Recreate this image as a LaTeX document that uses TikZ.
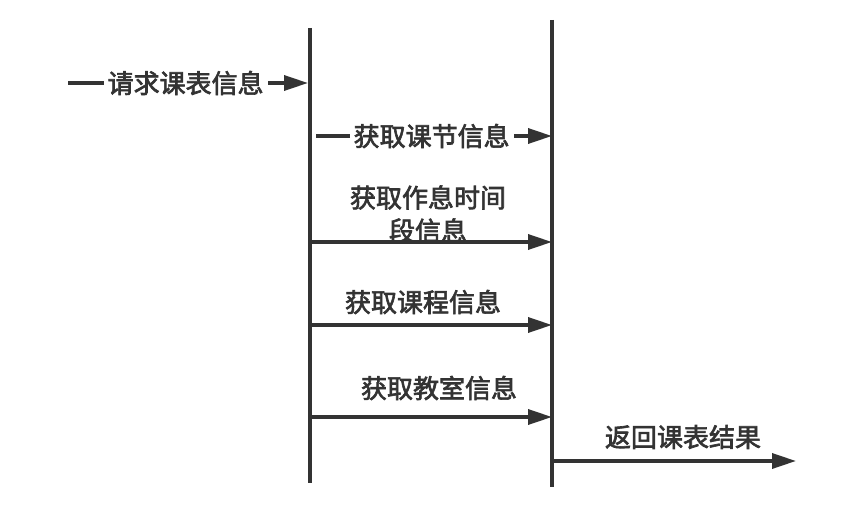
\documentclass[tikz,border=0pt]{standalone}
\usepackage{fontspec}
\newfontfamily\cjk{Noto Sans CJK SC}[FakeBold=2.5]
\usetikzlibrary{arrows.meta}
\definecolor{seqgray}{HTML}{333333}
\tikzset{
  seq frame/.style={
    x=1pt,
    y=-1pt,
    line cap=butt,
    line join=miter
  },
  seq life/.style={
    draw=seqgray,
    line width=3.4pt
  },
  seq msg/.style={
    draw=seqgray,
    line width=3.4pt,
    -{Triangle[length=24pt,width=15pt]}
  },
  seq label/.style={
    font=\cjk\fontsize{26}{33}\selectfont,
    text=seqgray,
    inner sep=1pt,
    align=center
  },
  seq inline/.style={
    seq label,
    fill=white,
    inner xsep=4pt
  }
}

\begin{document}
\begin{tikzpicture}[seq frame]

  \useasboundingbox (0,0) rectangle (868,524);

  % lifelines
  \coordinate (ui top) at (310,28);
  \coordinate (ui bot) at (310,483);
  \coordinate (svc top) at (552,20);
  \coordinate (svc bot) at (552,487);
  \draw[seq life] (ui top) -- (ui bot);
  \draw[seq life] (svc top) -- (svc bot);

  % request
  \coordinate (req start) at (68,83);
  \coordinate (req end) at (308,83);
  \draw[seq msg] (req start) -- (req end)
    node[seq inline,pos=0.49] (req) {请求课表信息};

  \coordinate (jie start) at (316,136);
  \coordinate (jie end) at (552,136);
  \draw[seq msg] (jie start) -- (jie end)
    node[seq inline,pos=0.49] (jie) {获取课节信息};

  \coordinate (zx start) at (310,242);
  \coordinate (zx end) at (552,242);
  \draw[seq msg] (zx start) -- (zx end);
  \node[seq label] (zx) at (428,214) {获取作息时间\\段信息};

  \coordinate (kc start) at (310,325);
  \coordinate (kc end) at (552,325);
  \draw[seq msg] (kc start) -- (kc end);
  \node[seq label] (kc) at (423,302) {获取课程信息};

  \coordinate (js start) at (310,417);
  \coordinate (js end) at (552,417);
  \draw[seq msg] (js start) -- (js end);
  \node[seq label] (js) at (439,388) {获取教室信息};

  % result
  \coordinate (res start) at (552,461);
  \coordinate (res end) at (796,461);
  \draw[seq msg] (res start) -- (res end);
  \node[seq label] (res) at (683,437) {返回课表结果};

\end{tikzpicture}
\end{document}
